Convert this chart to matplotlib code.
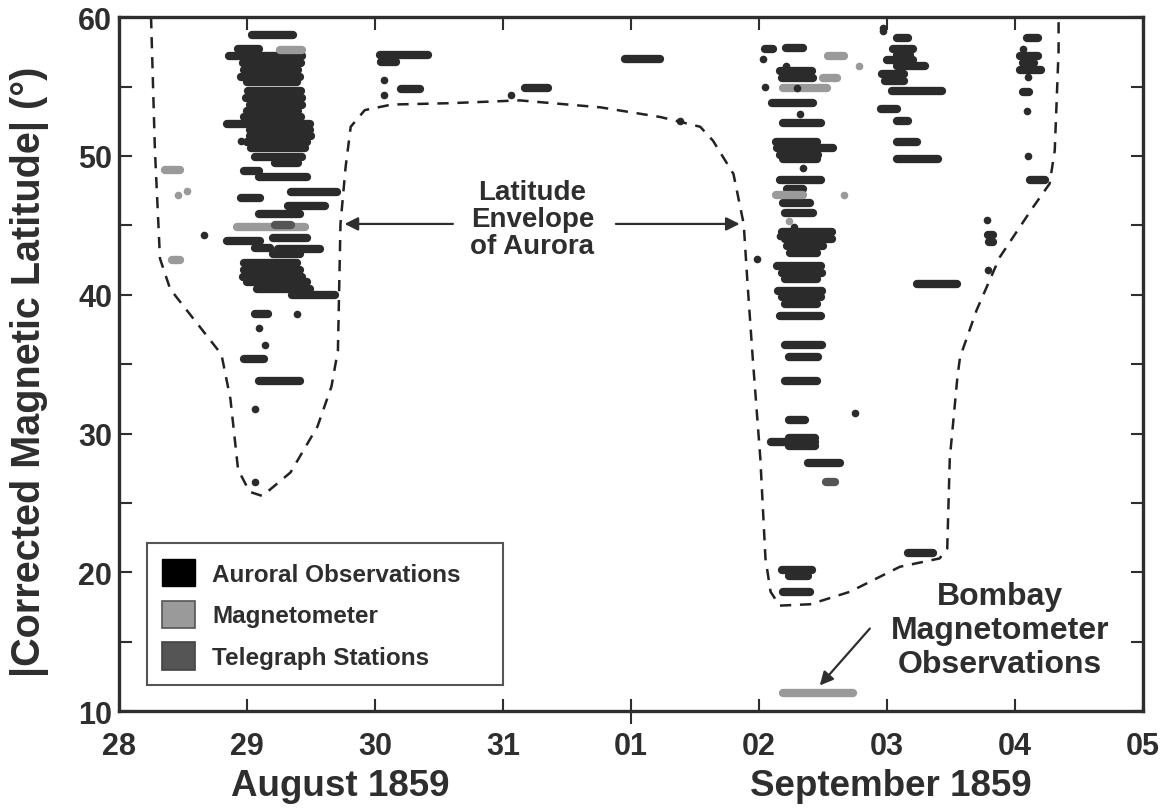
import matplotlib.pyplot as plt
from matplotlib.patches import Patch

# time axis: days after 28 Aug 1859 00:00
day_ticks = [0, 1, 2, 3, 4, 5, 6, 7, 8]
day_labels = ['28', '29', '30', '31', '01', '02', '03', '04', '05']
lat_ticks = [10, 20, 30, 40, 50, 60]

# auroral observations (start day, end day, latitude)
aurora_bars = [
    (1.04, 1.36, 58.7), (0.93, 1.09, 57.7), (0.86, 1.43, 57.2),
    (0.97, 1.42, 56.7), (0.98, 1.40, 56.2), (0.95, 1.41, 55.7), (1.00, 1.39, 55.3),
    (1.01, 1.42, 54.7), (0.99, 1.43, 54.2), (1.02, 1.43, 53.7), (1.00, 1.40, 53.2),
    (0.98, 1.42, 52.8), (0.84, 1.49, 52.3),
    (1.02, 1.49, 51.9), (1.02, 1.50, 51.4), (1.00, 1.47, 51.0), (1.03, 1.45, 50.6),
    (1.06, 1.43, 49.9), (1.22, 1.40, 49.5), (0.98, 1.09, 48.9), (1.09, 1.47, 48.5),
    (1.34, 1.70, 47.4), (0.95, 1.10, 47.0), (1.32, 1.61, 46.4), (1.09, 1.41, 45.8),
    (0.84, 1.10, 43.9), (1.20, 1.47, 44.1), (1.06, 1.18, 43.4),
    (1.24, 1.57, 43.3), (1.20, 1.41, 42.9),
    (0.98, 1.39, 42.3), (0.98, 1.41, 41.8), (0.97, 1.43, 41.3), (1.00, 1.47, 40.9),
    (1.08, 1.49, 40.4), (1.35, 1.69, 40.0), (1.06, 1.16, 38.6),
    (0.98, 1.13, 35.4), (1.09, 1.41, 33.8),
    (2.04, 2.41, 57.3), (2.05, 2.16, 56.8), (2.20, 2.35, 54.8),
    (3.17, 3.35, 54.9), (3.95, 4.23, 57.0),
    (5.05, 5.11, 57.7), (5.21, 5.34, 57.8),
    (5.16, 5.41, 56.1), (5.18, 5.42, 55.6), (5.10, 5.42, 53.8), (5.19, 5.48, 52.4),
    (5.13, 5.45, 51.0), (5.14, 5.58, 50.6), (5.16, 5.46, 50.1), (5.19, 5.45, 49.8),
    (5.16, 5.48, 48.3), (5.22, 5.34, 47.6), (5.19, 5.40, 46.6), (5.20, 5.42, 45.9),
    (5.18, 5.57, 44.5), (5.20, 5.57, 44.0), (5.22, 5.50, 43.5), (5.24, 5.45, 43.0),
    (5.14, 5.48, 42.1), (5.18, 5.49, 41.6), (5.20, 5.45, 41.1),
    (5.15, 5.49, 40.3), (5.18, 5.48, 39.8), (5.20, 5.45, 39.3),
    (5.16, 5.48, 38.5), (5.20, 5.49, 36.4), (5.23, 5.46, 35.5), (5.20, 5.45, 33.8),
    (5.23, 5.36, 31.0), (5.09, 5.44, 29.4), (5.23, 5.44, 29.1), (5.23, 5.44, 29.7),
    (5.38, 5.63, 27.9), (5.18, 5.41, 20.2), (5.23, 5.38, 19.7), (5.19, 5.40, 18.6),
    (6.08, 6.16, 58.5), (6.05, 6.20, 57.7), (6.08, 6.18, 57.3), (6.00, 6.20, 56.9),
    (6.08, 6.30, 56.5), (5.96, 6.13, 55.9), (5.98, 6.13, 55.4), (6.04, 6.43, 54.7),
    (5.95, 6.08, 53.4), (6.08, 6.16, 52.5), (6.08, 6.23, 51.0), (6.08, 6.40, 49.8),
    (7.09, 7.18, 58.5), (7.04, 7.18, 57.2), (7.06, 7.15, 56.7), (7.04, 7.20, 56.2),
    (7.06, 7.11, 54.6), (7.12, 7.23, 48.3),
    (6.79, 6.83, 44.3), (6.80, 6.83, 43.8), (6.23, 6.55, 40.8), (6.16, 6.36, 21.4),
]
aurora_dots = [
    (0.95, 51.1), (0.66, 44.3), (1.39, 38.6), (1.09, 37.6), (1.14, 36.4),
    (1.06, 31.8), (1.06, 26.5), (2.07, 55.5), (2.07, 54.4), (3.06, 54.4),
    (4.38, 52.5), (5.03, 57.0), (5.21, 56.5), (5.05, 55.0), (5.30, 54.9),
    (5.32, 53.0), (5.34, 49.1), (5.27, 44.9), (5.16, 44.2), (4.98, 42.6),
    (5.75, 31.5), (5.97, 59.0), (7.06, 57.7), (7.10, 55.7), (7.09, 53.2),
    (7.10, 50.0), (6.78, 45.4), (6.79, 41.8), (5.97, 59.2),
]

# magnetometer records
mag_bars = [
    (1.26, 1.43, 57.6), (0.92, 1.45, 44.9), (0.36, 0.48, 49.0), (0.41, 0.48, 42.5),
    (5.54, 5.66, 57.2), (5.50, 5.61, 55.6), (5.19, 5.53, 54.9), (5.13, 5.34, 47.2),
    (5.19, 5.73, 11.3),
]
mag_dots = [(0.46, 47.2), (0.53, 47.5), (5.78, 56.5), (5.66, 47.2), (5.23, 45.3)]

# telegraph stations
tele_bars = [(1.22, 1.34, 45.0), (5.52, 5.59, 26.5)]

# latitude envelope of aurora
env_day = [0.25, 0.28, 0.32, 0.40, 0.80, 0.87, 0.93, 1.02, 1.12, 1.34, 1.55, 1.66,
           1.71, 1.73, 1.77, 1.81, 1.92, 2.13, 2.59, 3.13, 3.76, 4.23, 4.54, 4.64,
           4.80, 4.88, 4.91, 4.95, 5.01, 5.05, 5.09, 5.16, 5.40, 5.71, 6.10, 6.41,
           6.47, 6.49, 6.55, 6.57, 6.70, 6.88, 7.14, 7.27, 7.31, 7.34, 7.34]
env_lat = [60.0, 50.5, 42.6, 40.4, 35.7, 32.5, 27.4, 25.8, 25.5, 27.2, 30.5, 33.4,
           36.0, 45.1, 49.2, 52.1, 53.3, 53.7, 53.8, 54.0, 53.5, 52.8, 52.1, 51.1,
           48.7, 45.1, 40.8, 35.5, 28.2, 21.0, 18.6, 17.6, 17.7, 18.6, 20.4, 21.0,
           21.7, 28.2, 34.1, 35.5, 38.9, 42.7, 46.3, 48.0, 50.4, 57.6, 60.0]

c_aur = '#2b2b2b'
c_mag = '#9a9a9a'
c_tel = '#555555'
ink = '#2e2e2e'
font = 'Liberation Sans'

fig = plt.figure(figsize=(11.67, 8.12), dpi=100)
ax = fig.add_axes([0.102, 0.123, 0.8775, 0.8547])

for t0, t1, lat in aurora_bars:
    ax.plot([t0, t1], [lat, lat], color=c_aur, lw=6, solid_capstyle='round')
for t0, t1, lat in mag_bars:
    ax.plot([t0, t1], [lat, lat], color=c_mag, lw=6, solid_capstyle='round')
for t0, t1, lat in tele_bars:
    ax.plot([t0, t1], [lat, lat], color=c_tel, lw=6, solid_capstyle='round')
ax.plot([d[0] for d in aurora_dots], [d[1] for d in aurora_dots], 'o',
        color=c_aur, ms=5.5, mew=0)
ax.plot([d[0] for d in mag_dots], [d[1] for d in mag_dots], 'o',
        color=c_mag, ms=5.5, mew=0)

ax.plot(env_day, env_lat, color='#222222', lw=1.8, ls=(0, (4.5, 3.5)))

# annotations
ax.text(3.23, 45.45, 'Latitude\nEnvelope\nof Aurora', ha='center', va='center',
        fontsize=20, fontweight='bold', color=ink, family=font, linespacing=1.03)
arrow = dict(arrowstyle='-|>', color=ink, lw=1.6, mutation_scale=20)
ax.annotate('', xy=(1.74, 45.1), xytext=(2.63, 45.1), arrowprops=arrow)
ax.annotate('', xy=(4.87, 45.1), xytext=(3.86, 45.1), arrowprops=arrow)
ax.text(6.88, 15.85, 'Bombay\nMagnetometer\nObservations', ha='center', va='center',
        fontsize=23, fontweight='bold', color=ink, family=font, linespacing=1.17)
ax.annotate('', xy=(5.46, 11.7), xytext=(5.88, 16.1), arrowprops=arrow)

ax.set_xlim(0, 8)
ax.set_ylim(10, 60)
ax.set_xticks(day_ticks)
ax.set_xticklabels(day_labels)
ax.set_yticks(lat_ticks)
ax.set_yticks([15, 25, 35, 45, 55], minor=True)
ax.tick_params(which='both', direction='in', length=9, width=1.5, color=ink,
               top=True, right=True, labelsize=22, labelcolor=ink)
ax.tick_params(axis='x', pad=14)
ax.tick_params(axis='y', pad=5)
for lab in ax.get_xticklabels() + ax.get_yticklabels():
    lab.set_fontweight('bold')
    lab.set_family(font)
# tick at 01 crosses the axis
t01 = ax.xaxis.get_major_ticks()[4]
t01.tick1line.set_marker('|')
t01.tick1line.set_markersize(18)

for s in ax.spines.values():
    s.set_linewidth(2.4)
    s.set_color(ink)

ax.set_ylabel('|Corrected Magnetic Latitude| (°)', fontsize=28.5, fontweight='bold',
              color=ink, family=font)
ax.yaxis.set_label_coords(-0.068, 0.49)
ax.text(1.73, -0.107, 'August 1859', transform=ax.get_xaxis_transform(),
        ha='center', va='center', fontsize=26.5, fontweight='bold', color=ink, family=font)
ax.text(6.03, -0.107, 'September 1859', transform=ax.get_xaxis_transform(),
        ha='center', va='center', fontsize=26.5, fontweight='bold', color=ink, family=font)

handles = [Patch(facecolor='black', edgecolor='black', label='Auroral Observations'),
           Patch(facecolor=c_mag, edgecolor='#555555', lw=1.2, label='Magnetometer'),
           Patch(facecolor=c_tel, edgecolor='#444444', lw=1.2, label='Telegraph Stations')]
leg = ax.legend(handles=handles, loc='lower left',
                bbox_to_anchor=(0.027, 0.037, 0.3477, 0.2), mode='expand',
                borderaxespad=0, fancybox=False, framealpha=1, edgecolor='#555555',
                handlelength=1.35, handleheight=1.35, labelspacing=0.59,
                handletextpad=0.7, borderpad=0.65,
                prop={'family': font, 'weight': 'bold', 'size': 17.5})
leg.get_frame().set_linewidth(1.5)
for t in leg.get_texts():
    t.set_color(ink)

fig.savefig('out.png', dpi=100)
